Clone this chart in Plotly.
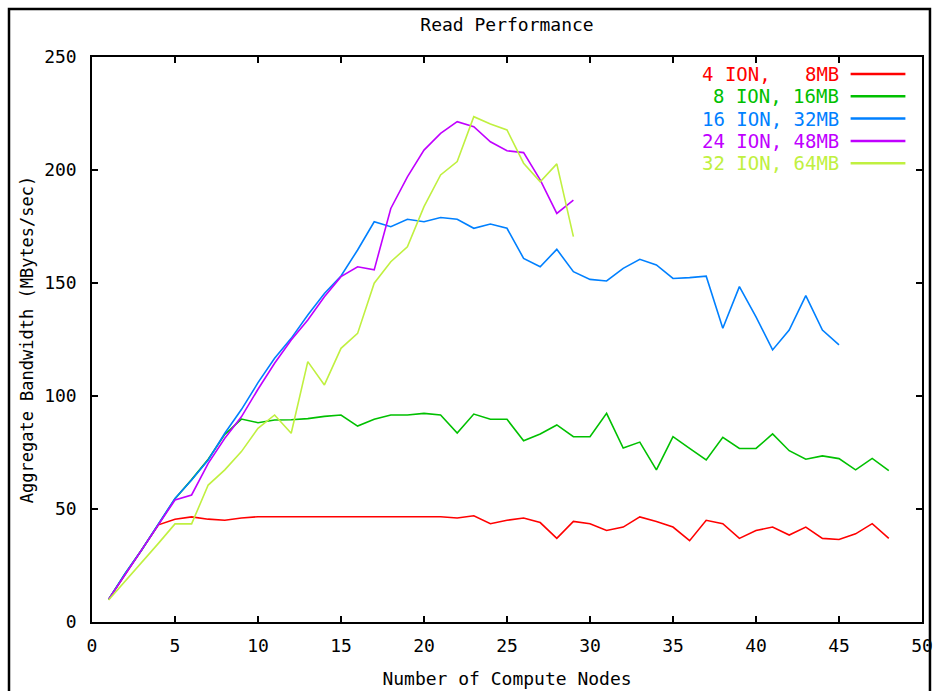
import plotly.graph_objects as go

nodes = list(range(1, 49))

ion4_8mb = [10, 21, 32, 43, 45.5, 46.5, 45.5, 45, 46, 46.6, 46.6, 46.6, 46.6, 46.6, 46.6,
            46.6, 46.6, 46.6, 46.6, 46.6, 46.6, 46, 47, 43.5, 45, 46, 44, 37, 44.5, 43.5,
            40.5, 42, 46.5, 44.5, 42, 36, 45, 43.5, 37, 40.5, 42, 38.5, 42, 37, 36.5, 39,
            43.5, 37]

ion8_16mb = [10, 21.5, 32, 43.5, 54.5, 63, 72, 83, 89.8, 88.2, 89.4, 89.5, 90, 91, 91.6,
             86.7, 89.7, 91.6, 91.6, 92.3, 91.6, 83.6, 92, 89.7, 89.7, 80.2, 83.2, 87.2, 82, 82,
             92.3, 77, 79.6, 67.3, 82, 76.8, 71.7, 81.7, 76.8, 76.8, 83.2, 75.8, 72, 73.5, 72.3,
             67.3, 72.4, 67]

ion16_32mb = [10, 21.5, 32, 43.5, 54.7, 62.8, 71.7, 83.5, 94, 105.9, 116.7, 125.5, 135.8,
              145.4, 153.1, 164.6, 177.1, 174.9, 178.2, 177.1, 179, 178.2, 174.2, 176.1, 174.2,
              160.9, 157.2, 164.9, 155, 151.6, 150.9, 156.5, 160.5, 158, 152, 152.4, 153, 130,
              148.4, 135, 120.4, 129.2, 144.4, 129.2, 122.6]

ion24_48mb = [10, 21, 31.5, 43, 54, 56.2, 70.2, 81.3, 90.8, 103, 114.5, 124.8, 133.6, 143.9,
              152.8, 157.2, 155.8, 183, 197, 208.8, 216.2, 221.4, 219.2, 212.5, 208.5, 207.7,
              195.6, 180.8, 186.7]

ion32_64mb = [9.7, 18, 26, 34.8, 43.4, 43.4, 60.6, 67.3, 75.4, 85.7, 91.6, 83.5, 115.2, 104.9,
              121.1, 127.7, 149.9, 159.4, 166, 183.8, 197.8, 203.7, 223.6, 220.4, 217.7, 203,
              194.8, 202.7, 170.5]

series_names = ["4 ION,   8MB", "8 ION, 16MB", "16 ION, 32MB", "24 ION, 48MB", "32 ION, 64MB"]
series_values = [ion4_8mb, ion8_16mb, ion16_32mb, ion24_48mb, ion32_64mb]
colors = ["#ff0000", "#00c000", "#0080ff", "#c000ff", "#c0f040"]

x_ticks = [0, 5, 10, 15, 20, 25, 30, 35, 40, 45, 50]
y_ticks = [0, 50, 100, 150, 200, 250]

FONT = "DejaVu Sans Mono"

fig = go.Figure()
for name, vals, col in zip(series_names, series_values, colors):
    fig.add_trace(go.Scatter(
        x=nodes[:len(vals)], y=vals, mode="lines", name=name,
        line=dict(color=col, width=1.6), showlegend=False,
    ))

# legend drawn gnuplot-style: coloured text right-aligned, sample line to the right
for i, (name, col) in enumerate(zip(series_names, colors)):
    ypos = 0.970 - i * 0.0395
    fig.add_annotation(
        xref="paper", yref="paper", x=0.902, y=ypos, xanchor="right", yanchor="middle",
        text=name.replace(" ", "\u00a0"), showarrow=False,
        font=dict(family=FONT, size=19, color=col),
    )
    fig.add_shape(
        type="line", xref="paper", yref="paper", x0=0.914, x1=0.980, y0=ypos, y1=ypos,
        line=dict(color=col, width=2.5),
    )

# outer image frame
fig.add_shape(type="rect", xref="paper", yref="paper",
              x0=-0.1, x1=1.0096, y0=-0.15, y1=1.085,
              line=dict(color="black", width=2.5), layer="below")

axis_common = dict(
    showline=True, linecolor="black", linewidth=1.5, mirror="ticks",
    ticks="inside", ticklen=6, tickwidth=1.5, tickcolor="black",
    showgrid=False, zeroline=False, automargin=False,
    tickfont=dict(family=FONT, size=18, color="black"),
)

fig.update_layout(
    width=933, height=691,
    margin=dict(l=92, r=11, t=57, b=69, autoexpand=False),
    paper_bgcolor="white", plot_bgcolor="white",
    title=dict(text="Read Performance", xref="paper", x=0.5, xanchor="center",
               y=0.9638, yanchor="middle",
               font=dict(family=FONT, size=18, color="black")),
    xaxis=dict(range=[0, 50], tickvals=x_ticks, ticktext=[str(v) for v in x_ticks],
               ticklabelstandoff=7,
               title=dict(text="Number of Compute Nodes", standoff=17,
                          font=dict(family=FONT, size=18, color="black")),
               **axis_common),
    yaxis=dict(range=[0, 250], tickvals=y_ticks, ticktext=[str(v) for v in y_ticks],
               ticklabelstandoff=10,
               title=dict(text="Aggregate Bandwidth (MBytes/sec)", standoff=6,
                          font=dict(family=FONT, size=17, color="black")),
               **axis_common),
    showlegend=False,
)

fig.write_html(
    "out.html",
    config={"displayModeBar": False},
    post_script="document.body.style.margin='0';document.body.style.overflow='hidden';",
)
